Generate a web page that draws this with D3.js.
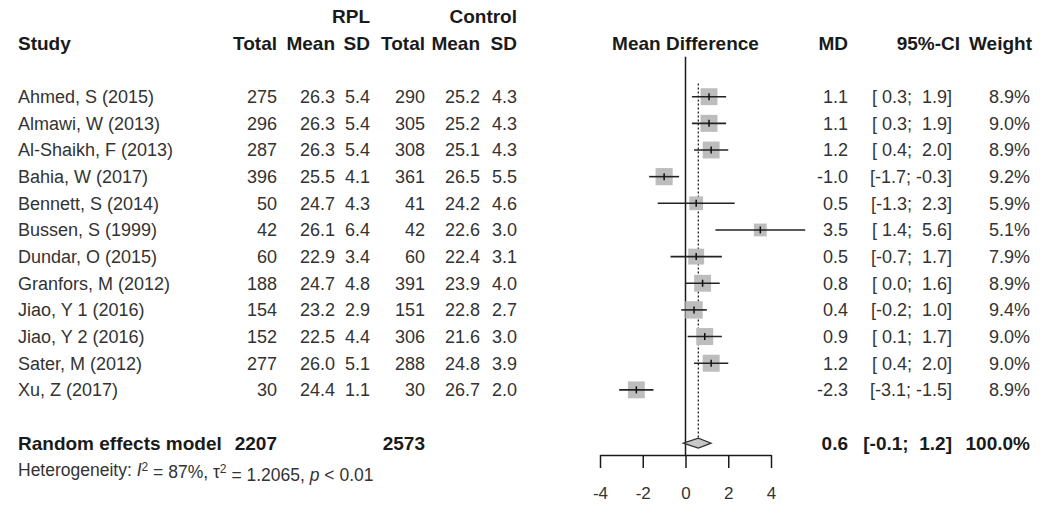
<!DOCTYPE html>
<html>
<head>
<meta charset="utf-8">
<script src="https://cdn.jsdelivr.net/npm/d3@7"></script>
<style>
  body { margin: 0; background: #fff; }
  text { font-family: "Liberation Sans", Arial, sans-serif; white-space: pre; }
</style>
</head>
<body>
<div id="wrapper"></div>
<script>
// study rows
const studies = ["Ahmed, S (2015)", "Almawi, W (2013)", "Al-Shaikh, F (2013)", "Bahia, W (2017)",
  "Bennett, S (2014)", "Bussen, S (1999)", "Dundar, O (2015)", "Granfors, M (2012)",
  "Jiao, Y 1 (2016)", "Jiao, Y 2 (2016)", "Sater, M (2012)", "Xu, Z (2017)"];
const rplTotal = [275, 296, 287, 396, 50, 42, 60, 188, 154, 152, 277, 30];
const rplMean = [26.3, 26.3, 26.3, 25.5, 24.7, 26.1, 22.9, 24.7, 23.2, 22.5, 26.0, 24.4];
const rplSD = [5.4, 5.4, 5.4, 4.1, 4.3, 6.4, 3.4, 4.8, 2.9, 4.4, 5.1, 1.1];
const ctrlTotal = [290, 305, 308, 361, 41, 42, 60, 391, 151, 306, 288, 30];
const ctrlMean = [25.2, 25.2, 25.1, 26.5, 24.2, 22.6, 22.4, 23.9, 22.8, 21.6, 24.8, 26.7];
const ctrlSD = [4.3, 4.3, 4.3, 5.5, 4.6, 3.0, 3.1, 4.0, 2.7, 3.0, 3.9, 2.0];
const md = [1.1, 1.1, 1.2, -1.0, 0.5, 3.5, 0.5, 0.8, 0.4, 0.9, 1.2, -2.3];
const ciLow = [0.3, 0.3, 0.4, -1.7, -1.3, 1.4, -0.7, 0.0, -0.2, 0.1, 0.4, -3.1];
const ciHigh = [1.9, 1.9, 2.0, -0.3, 2.3, 5.6, 1.7, 1.6, 1.0, 1.7, 2.0, -1.5];
const weight = [8.9, 9.0, 8.9, 9.2, 5.9, 5.1, 7.9, 8.9, 9.4, 9.0, 9.0, 8.9];

// pooled estimate
const pooledTotals = [2207, 2573];
const pooled = {md: 0.6, low: -0.1, high: 1.2, weight: 100.0};
const xTicks = [-4, -2, 0, 2, 4];

const width = 1044, height = 508;
const font = 18, boldFont = 19;

const svg = d3.select("#wrapper").append("svg")
  .attr("width", width)
  .attr("height", height);

svg.append("rect").attr("width", width).attr("height", height).attr("fill", "#fff");

// row index -> y
const yRow = d3.scaleLinear().domain([0, 1]).range([96.7, 96.7 + 26.65]);
const x = d3.scaleLinear().domain([-4, 4]).range([600, 771]);

// R prints a plain hyphen for negatives
const fmt1 = v => d3.format(".1f")(v).replace("\u2212", "-");
const padNum = v => (v < 0 ? "" : " ") + fmt1(v);
const ciText = (lo, hi) => `[${padNum(lo)}; ${padNum(hi)}]`;

// text columns, right aligned
const cols = {total: 277, mean: 335, sd: 370, cTotal: 425, cMean: 480, cSd: 517,
  md: 848, ci: 952, w: 1030};

function txt(g, xPos, row, s, opts = {}) {
  return g.append("text")
    .attr("x", xPos)
    .attr("y", yRow(row))
    .attr("dy", "0.35em")
    .attr("text-anchor", opts.anchor || "end")
    .attr("font-size", opts.size || (opts.bold ? boldFont : font))
    .attr("font-weight", opts.bold ? "bold" : "normal")
    .attr("fill", opts.bold ? "#1a1a1a" : "#333")
    .text(s);
}

const g = svg.append("g");

// headers
txt(g, cols.sd, -3, "RPL", {bold: true});
txt(g, cols.cSd, -3, "Control", {bold: true});
txt(g, 18, -2, "Study", {bold: true, anchor: "start"});
[["Total", cols.total], ["Mean", cols.mean], ["SD", cols.sd],
 ["Total", cols.cTotal], ["Mean", cols.cMean], ["SD", cols.cSd],
 ["MD", cols.md], ["95%-CI", 960], ["Weight", 1032]]
  .forEach(([s, xp]) => txt(g, xp, -2, s, {bold: true}));
txt(g, x(0), -2, "Mean Difference", {bold: true, anchor: "middle"});

// study rows
studies.forEach((s, i) => {
  txt(g, 18, i, s, {anchor: "start"});
  txt(g, cols.total, i, rplTotal[i]);
  txt(g, cols.mean, i, fmt1(rplMean[i]));
  txt(g, cols.sd, i, fmt1(rplSD[i]));
  txt(g, cols.cTotal, i, ctrlTotal[i]);
  txt(g, cols.cMean, i, fmt1(ctrlMean[i]));
  txt(g, cols.cSd, i, fmt1(ctrlSD[i]));
  txt(g, cols.md, i, fmt1(md[i]));
  txt(g, cols.ci, i, ciText(ciLow[i], ciHigh[i]));
  txt(g, cols.w, i, fmt1(weight[i]) + "%");
});

// pooled row
const pr = studies.length + 1;
txt(g, 18, pr, "Random effects model", {bold: true, anchor: "start"});
txt(g, cols.total, pr, pooledTotals[0], {bold: true});
txt(g, cols.cTotal, pr, pooledTotals[1], {bold: true});
txt(g, cols.md, pr, fmt1(pooled.md), {bold: true});
txt(g, cols.ci, pr, ciText(pooled.low, pooled.high), {bold: true});
txt(g, cols.w, pr, fmt1(pooled.weight) + "%", {bold: true});

// heterogeneity
const het = g.append("text")
  .attr("x", 18).attr("y", yRow(pr + 1)).attr("dy", "0.35em")
  .attr("font-size", 17.5).attr("fill", "#333");
het.append("tspan").text("Heterogeneity: ");
het.append("tspan").attr("font-style", "italic").text("I");
het.append("tspan").attr("dy", "-0.45em").attr("font-size", 12).text("2");
het.append("tspan").attr("dy", "0.45em").text(" = 87%, \u03c4");
het.append("tspan").attr("dy", "-0.45em").attr("font-size", 12).text("2");
het.append("tspan").attr("dy", "0.45em").text(" = 1.2065, ");
het.append("tspan").attr("font-style", "italic").text("p");
het.append("tspan").text(" < 0.01");

// forest plot
const axisY = 455;
const plot = svg.append("g");

plot.append("line")
  .attr("x1", x(0)).attr("x2", x(0))
  .attr("y1", yRow(-1.5)).attr("y2", axisY)
  .attr("stroke", "#1a1a1a").attr("stroke-width", 1.5);

plot.append("line")
  .attr("x1", x(pooled.md)).attr("x2", x(pooled.md))
  .attr("y1", yRow(-0.5)).attr("y2", yRow(pr) - 5)
  .attr("stroke", "#222").attr("stroke-width", 1.3)
  .attr("stroke-dasharray", "2,2");

const size = d3.scaleSqrt().domain([0, 9]).range([0, 17]);

const rows = plot.selectAll("g.row")
  .data(studies.map((s, i) => i))
  .join("g").attr("class", "row");

rows.append("rect")
  .attr("x", i => x(md[i]) - size(weight[i]) / 2)
  .attr("y", i => yRow(i) - size(weight[i]) / 2)
  .attr("width", i => size(weight[i]))
  .attr("height", i => size(weight[i]))
  .attr("fill", "#bdbdbd");

rows.append("line")
  .attr("x1", i => x(ciLow[i])).attr("x2", i => x(ciHigh[i]))
  .attr("y1", i => yRow(i)).attr("y2", i => yRow(i))
  .attr("stroke", "#222").attr("stroke-width", 1.6);

rows.append("line")
  .attr("x1", i => x(md[i])).attr("x2", i => x(md[i]))
  .attr("y1", i => yRow(i) - 3.5).attr("y2", i => yRow(i) + 3.5)
  .attr("stroke", "#111").attr("stroke-width", 1.5);

// diamond
const dy0 = yRow(pr);
plot.append("path")
  .attr("d", `M${x(pooled.low)},${dy0}L${x(pooled.md)},${dy0 - 5}L${x(pooled.high)},${dy0}L${x(pooled.md)},${dy0 + 5}Z`)
  .attr("fill", "#c8c8c8").attr("stroke", "#333").attr("stroke-width", 1.2);

// axis
const axis = plot.append("g")
  .attr("transform", `translate(0,${axisY})`)
  .call(d3.axisBottom(x).tickValues(xTicks).tickSize(13).tickSizeOuter(0).tickPadding(19)
    .tickFormat(d => String(d)));
axis.select(".domain").attr("stroke", "#1a1a1a").attr("stroke-width", 1.5);
axis.selectAll(".tick line").attr("stroke", "#1a1a1a").attr("stroke-width", 1.5);
axis.selectAll(".tick text")
  .attr("font-family", "Liberation Sans, Arial, sans-serif")
  .attr("font-size", 17).attr("fill", "#333");
</script>
</body>
</html>
